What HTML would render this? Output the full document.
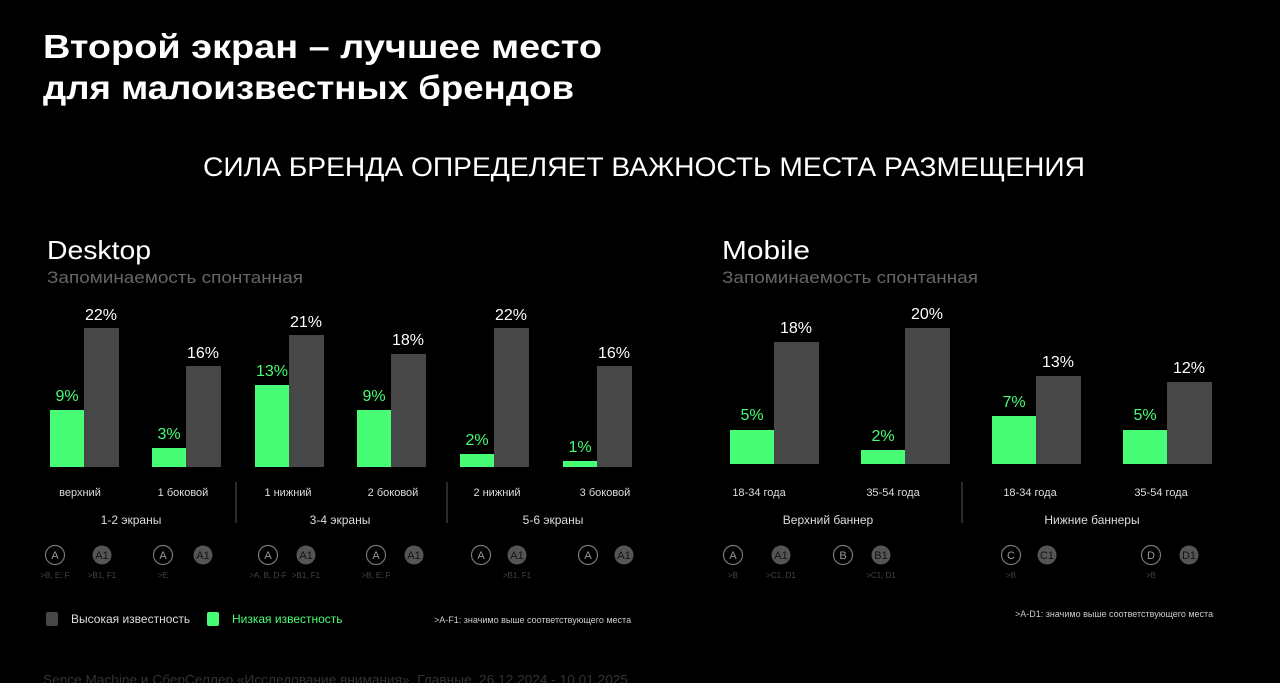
<!DOCTYPE html>
<html><head><meta charset="utf-8"><style>
body{margin:0;background:#000;width:1280px;height:683px;overflow:hidden}
svg{display:block;font-family:"Liberation Sans","DejaVu Sans",sans-serif}
</style></head><body>
<svg width="1280" height="683" viewBox="0 0 1280 683">
<rect width="1280" height="683" fill="#000"/>
<text x="43" y="58" fill="#fff" font-size="33" font-weight="bold" textLength="559" lengthAdjust="spacingAndGlyphs">Второй экран – лучшее место</text>
<text x="43" y="99" fill="#fff" font-size="33" font-weight="bold" textLength="531" lengthAdjust="spacingAndGlyphs">для малоизвестных брендов</text>
<text x="203" y="176" fill="#fff" font-size="27" textLength="882" lengthAdjust="spacingAndGlyphs">СИЛА БРЕНДА ОПРЕДЕЛЯЕТ ВАЖНОСТЬ МЕСТА РАЗМЕЩЕНИЯ</text>
<text x="47" y="259" fill="#fff" font-size="26" textLength="104" lengthAdjust="spacingAndGlyphs">Desktop</text>
<text x="47" y="283" fill="#666" font-size="17" textLength="256" lengthAdjust="spacingAndGlyphs">Запоминаемость спонтанная</text>
<text x="722" y="259" fill="#fff" font-size="26" textLength="88" lengthAdjust="spacingAndGlyphs">Mobile</text>
<text x="722" y="283" fill="#666" font-size="17" textLength="256" lengthAdjust="spacingAndGlyphs">Запоминаемость спонтанная</text>
<g font-size="16" text-anchor="middle">
<rect x="50" y="410" width="34" height="57" fill="#47fd75"/><rect x="84" y="328" width="35" height="139" fill="#474747"/>
<text x="67" y="401" fill="#47fd75">9%</text><text x="101" y="320" fill="#fff">22%</text>
<rect x="152" y="448" width="34" height="19" fill="#47fd75"/><rect x="186" y="366" width="35" height="101" fill="#474747"/>
<text x="169" y="439" fill="#47fd75">3%</text><text x="203" y="358" fill="#fff">16%</text>
<rect x="255" y="385" width="34" height="82" fill="#47fd75"/><rect x="289" y="335" width="35" height="132" fill="#474747"/>
<text x="272" y="376" fill="#47fd75">13%</text><text x="306" y="327" fill="#fff">21%</text>
<rect x="357" y="410" width="34" height="57" fill="#47fd75"/><rect x="391" y="354" width="35" height="113" fill="#474747"/>
<text x="374" y="401" fill="#47fd75">9%</text><text x="408" y="345" fill="#fff">18%</text>
<rect x="460" y="454" width="34" height="13" fill="#47fd75"/><rect x="494" y="328" width="35" height="139" fill="#474747"/>
<text x="477" y="445" fill="#47fd75">2%</text><text x="511" y="320" fill="#fff">22%</text>
<rect x="563" y="461" width="34" height="6" fill="#47fd75"/><rect x="597" y="366" width="35" height="101" fill="#474747"/>
<text x="580" y="452" fill="#47fd75">1%</text><text x="614" y="358" fill="#fff">16%</text>
<rect x="730" y="430" width="44" height="34" fill="#47fd75"/><rect x="774" y="342" width="45" height="122" fill="#474747"/>
<text x="752" y="420" fill="#47fd75">5%</text><text x="796" y="333" fill="#fff">18%</text>
<rect x="861" y="450" width="44" height="14" fill="#47fd75"/><rect x="905" y="328" width="45" height="136" fill="#474747"/>
<text x="883" y="441" fill="#47fd75">2%</text><text x="927" y="319" fill="#fff">20%</text>
<rect x="992" y="416" width="44" height="48" fill="#47fd75"/><rect x="1036" y="376" width="45" height="88" fill="#474747"/>
<text x="1014" y="407" fill="#47fd75">7%</text><text x="1058" y="367" fill="#fff">13%</text>
<rect x="1123" y="430" width="44" height="34" fill="#47fd75"/><rect x="1167" y="382" width="45" height="82" fill="#474747"/>
<text x="1145" y="420" fill="#47fd75">5%</text><text x="1189" y="373" fill="#fff">12%</text>
</g>
<g font-size="11" fill="#ddd" text-anchor="middle">
<text x="80" y="496">верхний</text><text x="183" y="496">1 боковой</text>
<text x="288" y="496">1 нижний</text><text x="393" y="496">2 боковой</text>
<text x="497" y="496">2 нижний</text><text x="605" y="496">3 боковой</text>
<text x="131" y="524" font-size="12">1-2 экраны</text><text x="340" y="524" font-size="12">3-4 экраны</text><text x="553" y="524" font-size="12">5-6 экраны</text>
<text x="759" y="496">18-34 года</text><text x="893" y="496">35-54 года</text>
<text x="1030" y="496">18-34 года</text><text x="1161" y="496">35-54 года</text>
<text x="828" y="524" font-size="12">Верхний баннер</text><text x="1092" y="524" font-size="12">Нижние баннеры</text>
</g>
<g stroke="#555" stroke-width="1"><line x1="236" y1="482" x2="236" y2="523"/><line x1="447" y1="482" x2="447" y2="523"/><line x1="962" y1="482" x2="962" y2="523"/></g>
<g font-size="11" text-anchor="middle">
<g fill="none" stroke="#777" stroke-width="1.2">
<circle cx="55" cy="555" r="9.5"/><circle cx="163" cy="555" r="9.5"/><circle cx="268" cy="555" r="9.5"/><circle cx="376" cy="555" r="9.5"/><circle cx="481" cy="555" r="9.5"/><circle cx="588" cy="555" r="9.5"/>
<circle cx="733" cy="555" r="9.5"/><circle cx="843" cy="555" r="9.5"/><circle cx="1011" cy="555" r="9.5"/><circle cx="1151" cy="555" r="9.5"/>
</g>
<g fill="#555">
<circle cx="102" cy="555" r="9.5"/><circle cx="203" cy="555" r="9.5"/><circle cx="306" cy="555" r="9.5"/><circle cx="414" cy="555" r="9.5"/><circle cx="517" cy="555" r="9.5"/><circle cx="624" cy="555" r="9.5"/>
<circle cx="781" cy="555" r="9.5"/><circle cx="881" cy="555" r="9.5"/><circle cx="1047" cy="555" r="9.5"/><circle cx="1189" cy="555" r="9.5"/>
</g>
<g fill="#999">
<text x="55" y="559">A</text><text x="163" y="559">A</text><text x="268" y="559">A</text><text x="376" y="559">A</text><text x="481" y="559">A</text><text x="588" y="559">A</text>
<text x="733" y="559">A</text><text x="843" y="559">B</text><text x="1011" y="559">C</text><text x="1151" y="559">D</text>
</g>
<g fill="#111">
<text x="102" y="559">A1</text><text x="203" y="559">A1</text><text x="306" y="559">A1</text><text x="414" y="559">A1</text><text x="517" y="559">A1</text><text x="624" y="559">A1</text>
<text x="781" y="559">A1</text><text x="881" y="559">B1</text><text x="1047" y="559">C1</text><text x="1189" y="559">D1</text>
</g>
<g fill="#444" font-size="8">
<text x="55" y="578">&gt;B, E, F</text><text x="102" y="578">&gt;B1, F1</text><text x="163" y="578">&gt;E</text>
<text x="268" y="578">&gt;A, B, D-F</text><text x="306" y="578">&gt;B1, F1</text><text x="376" y="578">&gt;B, E, F</text><text x="517" y="578">&gt;B1, F1</text>
<text x="733" y="578">&gt;B</text><text x="781" y="578">&gt;C1, D1</text><text x="881" y="578">&gt;C1, D1</text><text x="1011" y="578">&gt;B</text><text x="1151" y="578">&gt;B</text>
</g>
</g>
<rect x="46" y="612" width="12" height="14" rx="2" fill="#474747"/>
<text x="71" y="623" fill="#ddd" font-size="12">Высокая известность</text>
<rect x="207" y="612" width="12" height="14" rx="2" fill="#47fd75"/>
<text x="232" y="623" fill="#47fd75" font-size="12">Низкая известность</text>
<text x="434" y="623" fill="#ccc" font-size="9">&gt;A-F1: значимо выше соответствующего места</text>
<text x="1015" y="617" fill="#ccc" font-size="9">&gt;A-D1: значимо выше соответствующего места</text>
<text x="43" y="684" fill="#333" font-size="13" textLength="585" lengthAdjust="spacingAndGlyphs">Sence Machine и СберСеллер «Исследование внимания». Главные. 26.12.2024 - 10.01.2025</text>
</svg>
</body></html>
